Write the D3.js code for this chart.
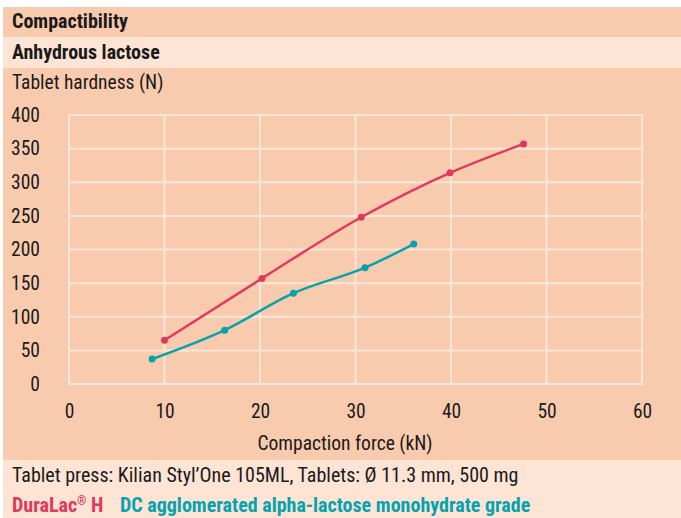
<!DOCTYPE html>
<html>
<head>
<meta charset="utf-8">
<script src="https://cdn.jsdelivr.net/npm/d3@7"></script>
<style>
  body { margin: 0; background: #fff; }
  text { font-family: "Liberation Sans Narrow", "Roboto Condensed", "DejaVu Sans Condensed", sans-serif; fill: #1a1a1a; }
</style>
</head>
<body>
<div id="chart"></div>
<script>
// data
const duraForce = [10.0, 20.2, 30.6, 39.9, 47.6];
const duraHardness = [65, 157, 248, 314, 357];
const dcForce = [8.7, 16.3, 23.5, 31.0, 36.1];
const dcHardness = [37, 80, 135, 173, 208];
const xTicks = [0, 10, 20, 30, 40, 50, 60];
const yTicks = [0, 50, 100, 150, 200, 250, 300, 350, 400];

const W = 681, H = 518;
const plot = { left: 69, right: 642, top: 115, bottom: 384 };

const svg = d3.select("#chart").append("svg")
  .attr("width", W).attr("height", H);

// background bands
svg.append("rect").attr("x", 3).attr("y", 7).attr("width", W - 3).attr("height", 30).attr("fill", "#f9cbae");
svg.append("rect").attr("x", 3).attr("y", 37).attr("width", W - 3).attr("height", 31).attr("fill", "#fde4d5");
svg.append("rect").attr("x", 3).attr("y", 68).attr("width", W - 3).attr("height", 392).attr("fill", "#f9cbae");
svg.append("rect").attr("x", 3).attr("y", 460).attr("width", W - 3).attr("height", 58).attr("fill", "#fde4d5");

svg.append("text").attr("x", 12).attr("y", 28).attr("font-size", 20).attr("font-weight", "bold").text("Compactibility");
svg.append("text").attr("x", 12).attr("y", 59).attr("font-size", 20).attr("font-weight", "bold").text("Anhydrous lactose");
svg.append("text").attr("x", 12).attr("y", 89).attr("font-size", 19.5).text("Tablet hardness (N)");

const x = d3.scaleLinear().domain([0, 60]).range([plot.left, plot.right]);
const y = d3.scaleLinear().domain([0, 400]).range([plot.bottom, plot.top]);

// grid
const grid = svg.append("g").attr("stroke", "#fde6d8").attr("stroke-width", 2);
grid.selectAll(".gx").data(xTicks).enter().append("line")
  .attr("x1", d => x(d)).attr("x2", d => x(d))
  .attr("y1", y(0) + 1).attr("y2", y(400) - 1);
grid.selectAll(".gy").data(yTicks).enter().append("line")
  .attr("y1", d => y(d)).attr("y2", d => y(d))
  .attr("x1", x(0) - 1).attr("x2", x(60) + 1);

// axes (labels only)
const yAxis = svg.append("g").attr("transform", "translate(40,0)")
  .call(d3.axisLeft(y).tickValues(yTicks).tickSize(0).tickPadding(0));
yAxis.select(".domain").remove();
yAxis.selectAll("text").attr("font-size", 19.5).attr("font-family", null).attr("fill", "#1a1a1a");

const xAxis = svg.append("g").attr("transform", "translate(0,404)")
  .call(d3.axisBottom(x).tickValues(xTicks).tickSize(0).tickPadding(0));
xAxis.select(".domain").remove();
xAxis.selectAll("text").attr("font-size", 19.5).attr("font-family", null).attr("fill", "#1a1a1a");

svg.append("text").attr("x", 345).attr("y", 450).attr("text-anchor", "middle")
  .attr("font-size", 19.5).text("Compaction force (kN)");

// series
const series = [
  { fx: duraForce, hy: duraHardness, color: "#e4385b" },
  { fx: dcForce, hy: dcHardness, color: "#07a3ad" }
];
const line = d3.line().x(d => x(d[0])).y(d => y(d[1])).curve(d3.curveMonotoneX);

series.forEach(s => {
  const pts = s.fx.map((v, i) => [v, s.hy[i]]);
  svg.append("path").datum(pts)
    .attr("d", line).attr("fill", "none")
    .attr("stroke", s.color).attr("stroke-width", 2.5);
  svg.selectAll(null).data(pts).enter().append("circle")
    .attr("cx", d => x(d[0])).attr("cy", d => y(d[1]))
    .attr("r", 3.5).attr("fill", s.color);
});

// footer
svg.append("text").attr("x", 12).attr("y", 482).attr("font-size", 20)
  .text("Tablet press: Kilian Styl\u2019One 105ML, Tablets: \u00d8 11.3 mm, 500 mg");
const leg = svg.append("text").attr("x", 12).attr("y", 512).attr("font-size", 20).attr("font-weight", "bold");
leg.append("tspan").text("DuraLac");
leg.append("tspan").attr("font-size", 12).attr("dy", -7).text("\u00ae");
leg.append("tspan").attr("dy", 7).text(" H");
leg.selectAll("tspan").style("fill", "#e4385b");
svg.append("text").attr("x", 120).attr("y", 512).attr("font-size", 20).attr("font-weight", "bold")
  .style("fill", "#07a3ad")
  .text("DC agglomerated alpha-lactose monohydrate grade");
</script>
</body>
</html>
